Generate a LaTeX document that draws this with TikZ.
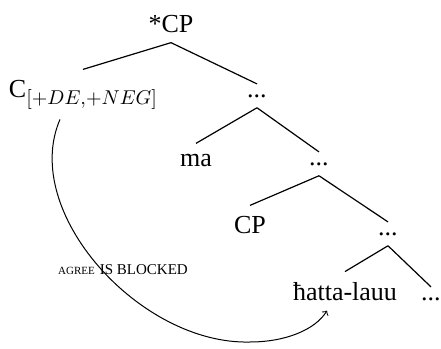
\documentclass[tikz,border=0pt]{standalone}
\usepackage{fontspec}
\setmainfont{Liberation Serif}
\tikzstyle{categoria} = [inner xsep=1pt, inner ysep=5pt, anchor=base, font=\fontsize{13}{15}\selectfont]
\tikzstyle{etiqueta} = [inner sep=0pt, anchor=base]
\tikzstyle{rama} = [line width=0.6pt]
\tikzstyle{arrow} = [line width=0.5pt,->,>=to]

\begin{document}
\begin{tikzpicture}[x=0.5pt, y=-0.5pt]
    \useasboundingbox (0,0) rectangle (441,349);
    % Nodos
    \node (cp) [categoria] at (171,32) {*CP};
    \node (c) [categoria] at (83,97) {C\raisebox{-3.5pt}{\fontsize{10}{12}\selectfont$[+DE{,}{+}NEG]$}};
    \node (d1) [categoria] at (257,97) {...};
    \node (ma) [categoria] at (196,166) {ma};
    \node (d2) [categoria] at (319,165) {...};
    \node (cp2) [categoria] at (250,233) {CP};
    \node (d3) [categoria] at (388,235) {...};
    \node (hatta) [categoria] at (345,300) {ħatta-lauu};
    \node (d4) [categoria] at (431,300) {...};
    \node (agree) [etiqueta] at (123,274) {{\fontsize{5.5}{6}\selectfont AGREE} {\fontsize{7.5}{9}\selectfont IS BLOCKED}};
    % Ramas
    \draw[rama] (cp.south) -- (c.north);
    \draw[rama] (cp.south) -- (d1.north);
    \draw[rama] (d1.south) -- (ma.north);
    \draw[rama] (d1.south) -- (d2.north);
    \draw[rama] (d2.south) -- (cp2.north);
    \draw[rama] (d2.south) -- (d3.north);
    \draw[rama] (d3.south) -- (hatta.north);
    \draw[rama] (d3.south) -- (d4.north);
    % Flecha
    \draw[arrow] ([xshift=-11.5pt]c.south) .. controls (20,212) and (140,345) .. (250,342)
        .. controls (285,342) and (315,330) .. ([xshift=-9pt]hatta.south);
\end{tikzpicture}
\end{document}
